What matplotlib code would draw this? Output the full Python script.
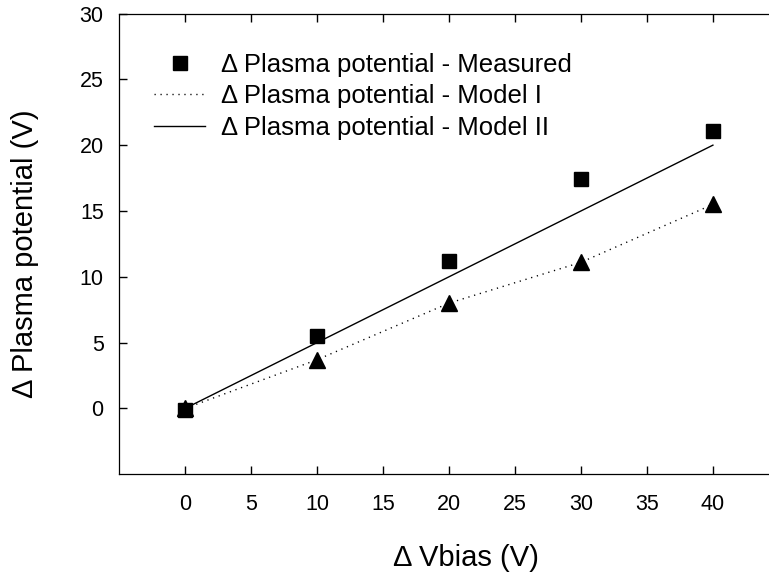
import numpy as np
import matplotlib
matplotlib.use('Agg')
import matplotlib.pyplot as plt

plt.rcParams['font.family'] = ['Liberation Sans', 'DejaVu Sans']

# data
vbias = [0, 10, 20, 30, 40]
measured = [-0.1, 5.5, 11.2, 17.4, 21.1]
model1 = [0.0, 3.7, 8.0, 11.1, 15.5]
model2 = [0, 5, 10, 15, 20]

xticks = [0, 5, 10, 15, 20, 25, 30, 35, 40]
yticks = [0, 5, 10, 15, 20, 25, 30]

fig = plt.figure(figsize=(7.69, 5.85), dpi=100)
ax = fig.add_axes([119/769, 110.7/585, 650/769, 460.8/585])

ax.plot(vbias, model1, color='black', lw=1, dashes=(0.9, 3.4),
        label='Δ Plasma potential - Model I')
ax.plot(vbias, model2, color='black', lw=1,
        label='Δ Plasma potential - Model II')
ax.plot(vbias, model1, ls='none', marker='^', ms=12, color='black')
ax.plot(vbias, measured, ls='none', marker='s', ms=9.6, color='black',
        label='Δ Plasma potential - Measured')

ax.set_xlim(-5, 44.25)
ax.set_ylim(-5, 30)
ax.set_xticks(xticks)
ax.set_yticks(yticks)
ax.spines['right'].set_visible(False)
for s in ax.spines.values():
    s.set_linewidth(0.9)
ax.tick_params(direction='in', length=6, width=1, labelsize=15.5)
ax.tick_params(axis='x', top=True, pad=14)
ax.tick_params(axis='y', pad=11)

ax.set_xlabel('Δ Vbias (V)', fontsize=21, va='center')
ax.xaxis.set_label_coords(0.534, -0.1816)
ax.set_ylabel('Δ Plasma potential (V)', fontsize=21, va='center')
ax.yaxis.set_label_coords(-0.1446, 0.479)

h, l = ax.get_legend_handles_labels()
order = [2, 0, 1]
ax.legend([h[i] for i in order], [l[i] for i in order], loc='upper left',
          bbox_to_anchor=(0.018, 0.965), frameon=False, fontsize=18.5,
          numpoints=1, handlelength=2.0, handletextpad=0.6, labelspacing=0.3)

fig.savefig('out.png', dpi=100)
